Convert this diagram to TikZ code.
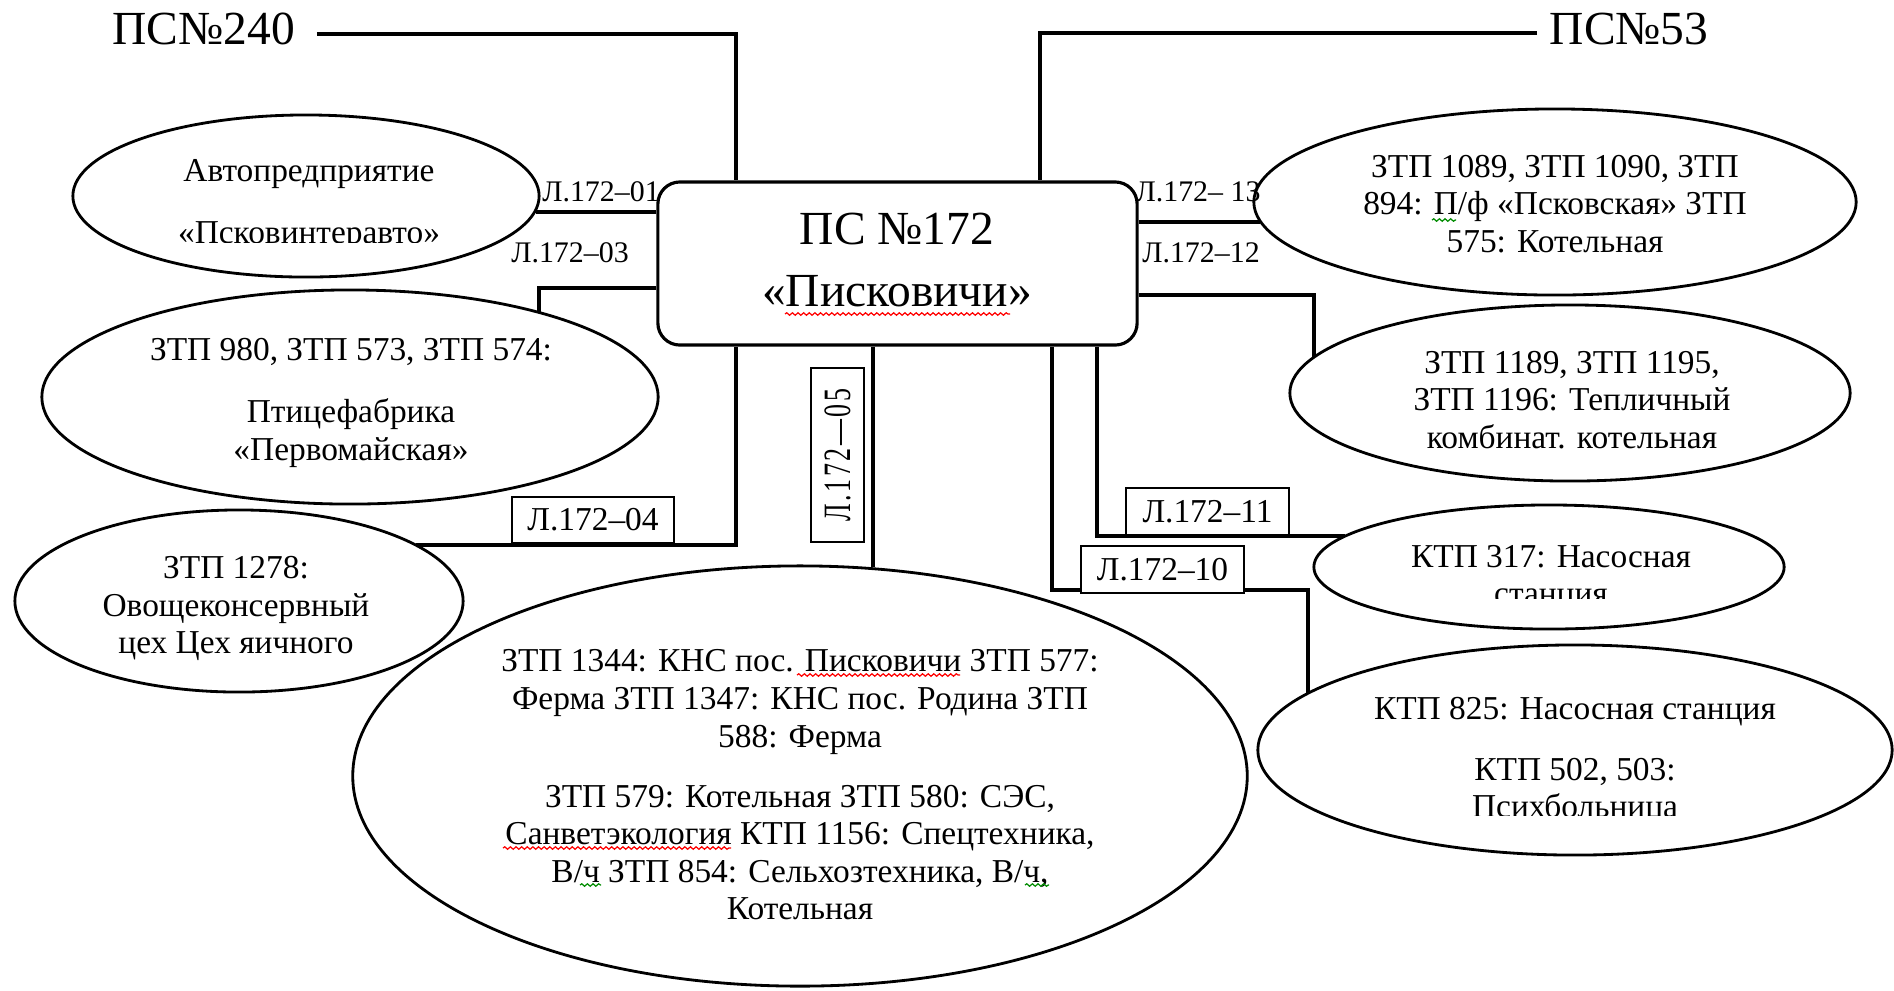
\documentclass[tikz,border=0pt]{standalone}
\usepackage{fontspec}
\setmainfont{Liberation Serif}
\newfontfamily\spacedfont[LetterSpace=10]{Liberation Serif}
\usetikzlibrary{shapes.geometric,decorations.pathmorphing}
\begin{document}
\begin{tikzpicture}[x=0.01cm,y=-0.01cm,
  conn/.style={line width=0.9pt},
  ell/.style={draw, ellipse, line width=0.8pt, inner sep=0pt, fill=white},
  etxt/.style={align=center, inner sep=0pt, font=\fontsize{9.5}{10.7}\selectfont},
  lbl/.style={inner sep=0pt, font=\fontsize{8.5}{10}\selectfont},
  lblbox/.style={draw, fill=white, line width=0.5pt, inner sep=0pt, font=\fontsize{9.5}{11}\selectfont},
  bigtext/.style={inner sep=0pt, font=\fontsize{13.5}{17.9}\selectfont},
  spell/.style={red, line width=0.35pt, decorate, decoration={snake, amplitude=0.35pt, segment length=1.6pt}},
  gram/.style={spell, green!55!black}]
\useasboundingbox (0,0) rectangle (1894,990);

% central substation
\node[draw, line width=0.9pt, rounded corners=0.22cm, minimum width=4.79cm, minimum height=1.63cm, inner sep=0pt] (box) at (897.5,263.5) {};
\node[bigtext, align=center] (boxt) at (897,260) {ПС №172\\«Писковичи»};

\node[bigtext, anchor=west] (ps240) at (112,29) {ПС№240};
\node[bigtext, anchor=west] (ps53) at (1549,29) {ПС№53};

% ellipses
\node[ell, minimum width=4.66cm, minimum height=1.62cm] (e1) at (306,196) {};
\node[ell, minimum width=6.16cm, minimum height=2.14cm] (e2) at (350,397) {};
\node[ell, minimum width=6.02cm, minimum height=1.86cm] (e3) at (1555,202) {};
\node[ell, minimum width=5.60cm, minimum height=1.76cm] (e4) at (1570,393) {};
\node[ell, minimum width=4.48cm, minimum height=1.82cm] (e5) at (239,601) {};
\node[ell, minimum width=4.70cm, minimum height=1.24cm] (e6) at (1549,567) {};
\node[ell, minimum width=6.34cm, minimum height=2.10cm] (e7) at (1575,750) {};
\node[ell, minimum width=8.94cm, minimum height=4.20cm] (e8) at (800,776) {};

% ellipse texts
\begin{scope}
\clip (0,0) rectangle (700,242);
\node[etxt] (e1t) at (309,205) {Автопредприятие\\[7.2pt]«Псковинтеравто»};
\end{scope}
\node[etxt] (e2t) at (351,403) {ЗТП 980, ЗТП 573, ЗТП 574:\\[6.9pt]Птицефабрика\\«Первомайская»};
\node[etxt] (e3t) at (1555,204) {ЗТП 1089, ЗТП 1090, ЗТП\\894: П/ф «Псковская» ЗТП\\575: Котельная};
\node[etxt] (e4t) at (1572,400) {ЗТП 1189, ЗТП 1195,\\ЗТП 1196: Тепличный\\комбинат. котельная};
\node[etxt] (e5t) at (236,608.5) {ЗТП 1278:\\Овощеконсервный\\цех Цех яичного};
\begin{scope}
\clip (1300,500) rectangle (1800,598);
\node[etxt] (e6t) at (1551,578) {КТП 317: Насосная\\станция};
\end{scope}
\begin{scope}
\clip (1300,680) rectangle (1850,815);
\node[etxt] (e7t) at (1575,761) {КТП 825: Насосная станция\\[6.5pt]КТП 502, 503:\\Психбольница};
\end{scope}
\node[etxt] (e8t) at (800,785) {ЗТП 1344: КНС пос. Писковичи ЗТП 577:\\Ферма ЗТП 1347: КНС пос. Родина ЗТП\\588: Ферма\\[6.3pt]ЗТП 579: Котельная ЗТП 580: СЭС,\\Санветэкология КТП 1156: Спецтехника,\\В/ч ЗТП 854: Сельхозтехника, В/ч,\\Котельная};

% junctions
\coordinate (j03) at (539,288);
\coordinate (j04) at (736,545);
\coordinate (j12) at (1314,295);
\coordinate (j11) at (1097,536);
\coordinate (j10a) at (1052,590);
\coordinate (j10b) at (1308,590);

% connectors
\draw[conn] ([xshift=0.21cm, yshift=-0.05cm]ps240.east) -| (736,0 |- box.north);
\draw[conn] ([xshift=-0.12cm, yshift=-0.04cm]ps53.west) -| (1040,0 |- box.north);
\draw[conn] (box.west |- 0,212) -- (e1.-4 |- 0,212);
\draw[conn] (box.west |- j03) -- (j03) -- (j03 |- e2.24);
\draw[conn] (736,0 |- box.south) -- (j04) -- (e5.18 |- j04);
\draw[conn] (873,0 |- box.south) -- (873,0 |- e8.71);
\draw[conn] (box.east |- 0,222) -- (e3.184 |- 0,222);
\draw[conn] (box.east |- j12) -- (j12) -- (j12 |- e4.172);
\draw[conn] (1097,0 |- box.south) -- (j11) -- (e6.171 |- j11);
\draw[conn] (1052,0 |- box.south) -- (j10a) -- (j10b) -- (j10b |- e7.168);

% line labels
\node[lbl] (l01) at (601,192) {Л.172–01};
\node[lbl] (l03) at (570,253) {Л.172–03};
\node[lbl] (l13) at (1198,192) {Л.172– 13};
\node[lbl] (l12) at (1201,253) {Л.172–12};
\node[lblbox, minimum width=1.62cm, minimum height=0.46cm] (l04) at (593,520) {Л.172–04};
\node[lblbox, rotate=90, minimum width=1.74cm, minimum height=0.53cm] (l05) at (837.5,455) {\scalebox{0.67}[1]{\spacedfont\fontsize{11}{12}\selectfont Л.172—05}};
\node[lblbox, minimum width=1.63cm, minimum height=0.47cm] (l11) at (1207.5,511.5) {Л.172–11};
\node[lblbox, minimum width=1.63cm, minimum height=0.47cm] (l10) at (1162.5,569.5) {Л.172–10};

% spelling marks
\draw[spell] (785,314) -- (1010,314);
\draw[spell] (797,675) -- (960,675);
\draw[spell] (503,848) -- (731,848);
\draw[gram] (1432,220) -- (1456,220);
\draw[gram] (580,885) -- (601,885);
\draw[gram] (1025,885) -- (1049,885);
\end{tikzpicture}
\end{document}
